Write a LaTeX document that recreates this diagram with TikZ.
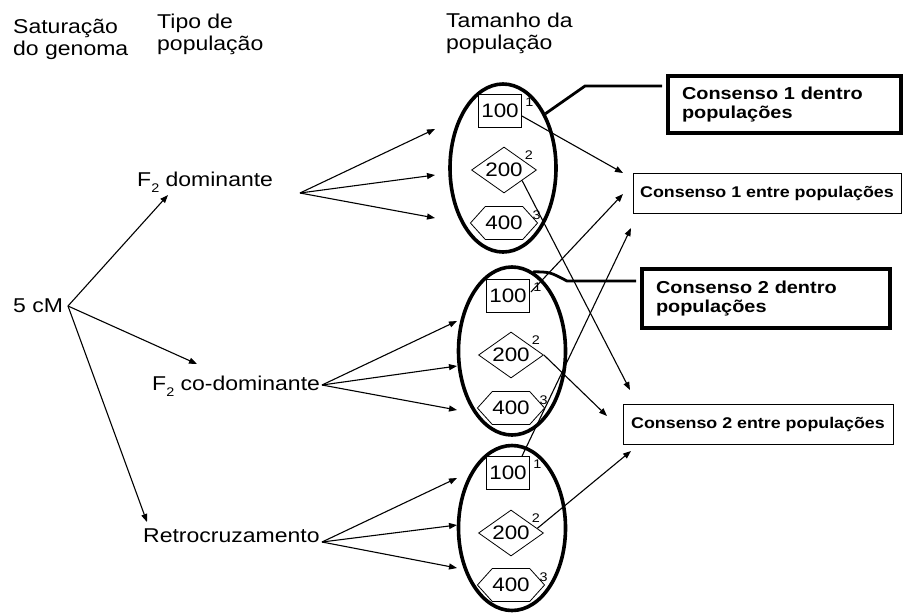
\documentclass[tikz,border=0pt]{standalone}
\usepackage{fontspec}
\setmainfont[FakeStretch=1.15]{Liberation Sans}
\usetikzlibrary{arrows.meta,shapes.geometric,shapes.symbols,calc}
\newcommand\subtwo{\raisebox{-6pt}{\fontsize{12.5}{12.5}\selectfont 2}}
\begin{document}
\begin{tikzpicture}[x=1pt,y=-1pt,
  every node/.style={inner sep=0pt},
  lbl/.style={font=\fontsize{20}{22.5}\selectfont, anchor=base west},
  hdr/.style={font=\fontsize{20}{22}\selectfont, align=left, anchor=base west},
  arr/.style={line width=1.1pt, -{Triangle[length=8pt,width=6pt]}},
  pop/.style={ellipse, draw, line width=3.6pt},
  sq/.style={rectangle, draw, line width=0.8pt, minimum width=43pt, minimum height=33pt, font=\fontsize{19.5}{19.5}\selectfont},
  dia/.style={diamond, aspect=1.4, draw, line width=0.8pt, minimum width=65pt, minimum height=46pt, font=\fontsize{19.5}{19.5}\selectfont},
  hexa/.style={signal, signal to=east and west, signal pointer angle=96, draw, line width=0.8pt, minimum width=65pt, minimum height=33pt, font=\fontsize{19.5}{19.5}\selectfont},
  sup/.style={font=\fontsize{12.5}{12.5}\selectfont},
  within/.style={rectangle, draw, line width=3.4pt, align=left, inner xsep=14pt, font=\fontsize{17.3}{19.5}\selectfont\bfseries},
  between/.style={rectangle, draw, line width=0.9pt, font=\fontsize{15.5}{17}\selectfont\bfseries},
  link/.style={line width=2.8pt}
]
\useasboundingbox (0,0) rectangle (904,614);

% headers (base anchor = baseline of last line)
\node[hdr] (hsat) at (13,55) {Saturação\\do genoma};
\node[hdr] (htipo) at (157,50) {Tipo de\\população};
\node[hdr] (htam) at (446,49) {Tamanho da\\população};

% left labels
\node[lbl] (cm) at (13,312) {5 cM};
\node[lbl] (fdom) at (137,186) {F\subtwo{} dominante};
\node[lbl] (fco) at (152,390) {F\subtwo{} co-dominante};
\node[lbl] (retro) at (143,542) {Retrocruzamento};

% ellipses
\node[pop, minimum width=106pt, minimum height=168pt] (e1) at (503,168) {};
\node[pop, minimum width=107pt, minimum height=168pt] (e2) at (512,351) {};
\node[pop, minimum width=107pt, minimum height=165pt] (e3) at (512,528) {};

% population sizes
\node[sq] (e1a) at (500,111) {100};
\node[dia] (e1b) at (504,170) {200};
\node[hexa] (e1c) at (504,223) {400};
\node[sq] (e2a) at (508,296) {100};
\node[dia] (e2b) at (511,355) {200};
\node[hexa] (e2c) at (511,408) {400};
\node[sq] (e3a) at (508,473) {100};
\node[dia] (e3b) at (511,533) {200};
\node[hexa] (e3c) at (511,585) {400};

\foreach \p in {e1,e2,e3}{
  \node[sup] (\p s1) at ($(\p a.north east)+(7.5,8.5)$) {1};
  \node[sup] (\p s2) at ($(\p b.east)+(-8,-15)$) {2};
  \node[sup] (\p s3) at ($(\p c.east)+(-1.5,-7.5)$) {3};
}

% consensus boxes
\node[within, minimum width=233pt, minimum height=57pt, text width=205pt] (d1) at (784.5,104.5) {Consenso 1 dentro\\populações};
\node[within, minimum width=248pt, minimum height=59pt, text width=220pt] (d2) at (766,298.5) {Consenso 2 dentro\\populações};
\node[between, minimum width=268pt, minimum height=40pt] (b1) at (767,193) {Consenso 1 entre populações};
\node[between, minimum width=270pt, minimum height=40pt] (b2) at (758,424) {Consenso 2 entre populações};

% coordinates
\coordinate (cm0) at (68,306);
\coordinate (fd0) at (300,193);
\coordinate (fc0) at (322,385);
\coordinate (fr0) at (322,542);
\coordinate (t1) at (168,195);
\coordinate (t2) at (197,364);
\coordinate (t3) at (147,522);
\coordinate (fd1) at (435,129);
\coordinate (fd2) at (435,175);
\coordinate (fd3) at (435,218);
\coordinate (fc1) at (457,321);
\coordinate (fc2) at (457,366);
\coordinate (fc3) at (457,410);
\coordinate (fr1) at (457,478);
\coordinate (fr2) at (457,525);
\coordinate (fr3) at (457,568);
\coordinate (x1) at (623,173);
\coordinate (x2) at (623,194);
\coordinate (x3) at (631,228);
\coordinate (x4) at (630,390);
\coordinate (x5) at (607,416);
\coordinate (x6) at (631,451);
\coordinate (k1) at (585,86);
\coordinate (k1e) at (662,86);
\coordinate (k2) at (567,281);
\coordinate (k2e) at (636,281);

% arrows
\draw[arr] (cm0) -- (t1);
\draw[arr] (cm0) -- (t2);
\draw[arr] (cm0) -- (t3);
\foreach \i in {1,2,3}{
  \draw[arr] (fd0) -- (fd\i);
  \draw[arr] (fc0) -- (fc\i);
  \draw[arr] (fr0) -- (fr\i);
}
\draw[arr] ($(e1a.east)+(0,5)$) -- (x1);
\draw[arr] ($(e2a.east)+(1,-4)$) -- (x2);
\draw[arr] ($(e3a.north)+(14,0)$) -- (x3);
\draw[arr] ($(e1b.east)!0.45!(e1b.south)$) -- (x4);
\draw[arr] (e2b.east) -- (x5);
\draw[arr] ($(e3b.east)!0.2!(e3b.north)$) -- (x6);

% links to within boxes
\draw[link] (e1.52) -- (k1) -- (k1e);
\draw[link] (e2.75) .. controls (550,272) .. (k2) -- (k2e);
\end{tikzpicture}
\end{document}
